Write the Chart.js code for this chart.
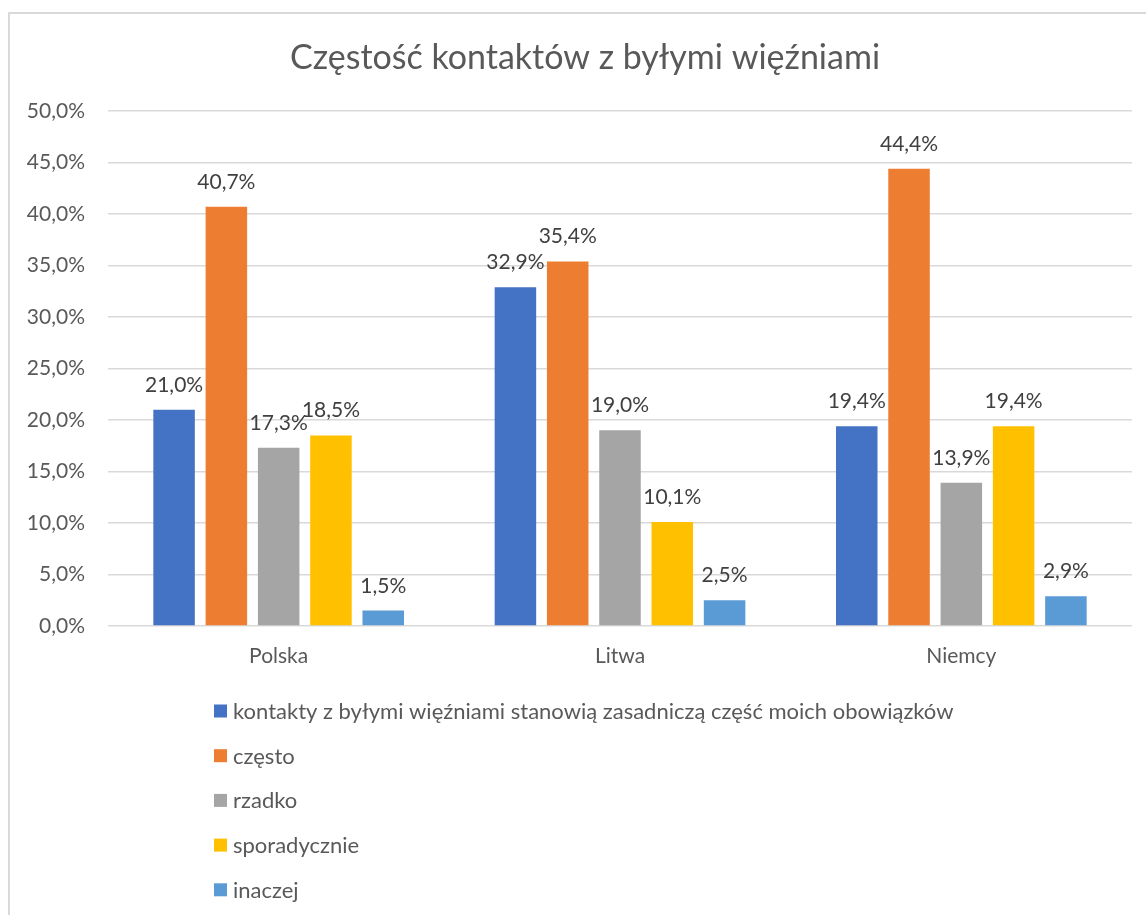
<!DOCTYPE html>
<html><head><meta charset="utf-8">
<script src="https://cdn.jsdelivr.net/npm/chart.js@4/dist/chart.umd.min.js"></script>
<style>html,body{margin:0;padding:0;background:#fff;overflow:hidden}canvas{display:block}</style>
</head><body>
<canvas id="c" width="1146" height="915"></canvas>
<script>
const chartTitle = 'Częstość kontaktów z byłymi więźniami';
const categories = ['Polska', 'Litwa', 'Niemcy'];
const seriesNames = [
  'kontakty z byłymi więźniami stanowią zasadniczą część moich obowiązków',
  'często', 'rzadko', 'sporadycznie', 'inaczej'
];
const seriesColors = ['#4472C4', '#ED7D31', '#A5A5A5', '#FFC000', '#5B9BD5'];
const kontakty = [21.0, 32.9, 19.4];
const czesto = [40.7, 35.4, 44.4];
const rzadko = [17.3, 19.0, 13.9];
const sporadycznie = [18.5, 10.1, 19.4];
const inaczej = [1.5, 2.5, 2.9];
const yMin = 0, yMax = 50, yStep = 5;

const seriesValues = [kontakty, czesto, rzadko, sporadycznie, inaczej];
const FONT = 'Lato, "Open Sans", sans-serif';
const fmt = v => v.toFixed(1).replace('.', ',') + '%';

const extras = {
  id: 'extras',
  beforeDraw(chart) {
    const ctx = chart.ctx;
    ctx.save();
    ctx.fillStyle = '#fff';
    ctx.fillRect(0, 0, chart.width, chart.height);
    ctx.strokeStyle = '#D9D9D9';
    ctx.lineWidth = 2;
    ctx.strokeRect(9, 13, 1300, 1100);
    ctx.restore();
  },
  afterDraw(chart) {
    const ctx = chart.ctx;
    ctx.save();
    // title
    ctx.fillStyle = '#595959';
    ctx.font = '34px ' + FONT;
    ctx.textAlign = 'center';
    ctx.textBaseline = 'alphabetic';
    ctx.fillText(chartTitle, 585, 69);
    // data labels
    ctx.font = '21px ' + FONT;
    ctx.fillStyle = '#404040';
    chart.data.datasets.forEach((ds, i) => {
      const meta = chart.getDatasetMeta(i);
      meta.data.forEach((bar, j) => {
        ctx.fillText(fmt(ds.data[j]), bar.x, bar.y - 18);
      });
    });
    // legend
    ctx.font = '22px ' + FONT;
    ctx.textAlign = 'left';
    ctx.textBaseline = 'middle';
    chart.data.datasets.forEach((ds, i) => {
      const cy = 711 + i * 44.7;
      ctx.fillStyle = ds.backgroundColor;
      ctx.fillRect(214, cy - 6.5, 13, 13);
      ctx.fillStyle = '#595959';
      ctx.fillText(ds.label, 233, cy + 1);
    });
    ctx.restore();
  }
};

new Chart(document.getElementById('c'), {
  type: 'bar',
  data: {
    labels: categories,
    datasets: seriesValues.map((vals, i) => ({
      label: seriesNames[i],
      data: vals,
      backgroundColor: seriesColors[i],
      borderWidth: 0,
      categoryPercentage: 0.766,
      barPercentage: 0.794
    }))
  },
  options: {
    responsive: false,
    animation: false,
    devicePixelRatio: 1,
    layout: { padding: { left: 0, top: 111, right: 14, bottom: 229 } },
    plugins: { legend: { display: false }, tooltip: { enabled: false }, title: { display: false } },
    scales: {
      x: {
        grid: { display: false, drawTicks: false },
        border: { display: false },
        ticks: { color: '#595959', font: { family: FONT, size: 21 }, padding: 18 },
        afterFit: s => { s.height = 60; }
      },
      y: {
        min: yMin, max: yMax,
        grid: { color: '#D9D9D9', lineWidth: 1.5, drawTicks: false },
        border: { display: false },
        ticks: { stepSize: yStep, color: '#595959', font: { family: FONT, size: 21 }, padding: 23, callback: v => fmt(v) },
        afterFit: s => { s.width = 108; }
      }
    }
  },
  plugins: [extras]
});
</script>
</body></html>
